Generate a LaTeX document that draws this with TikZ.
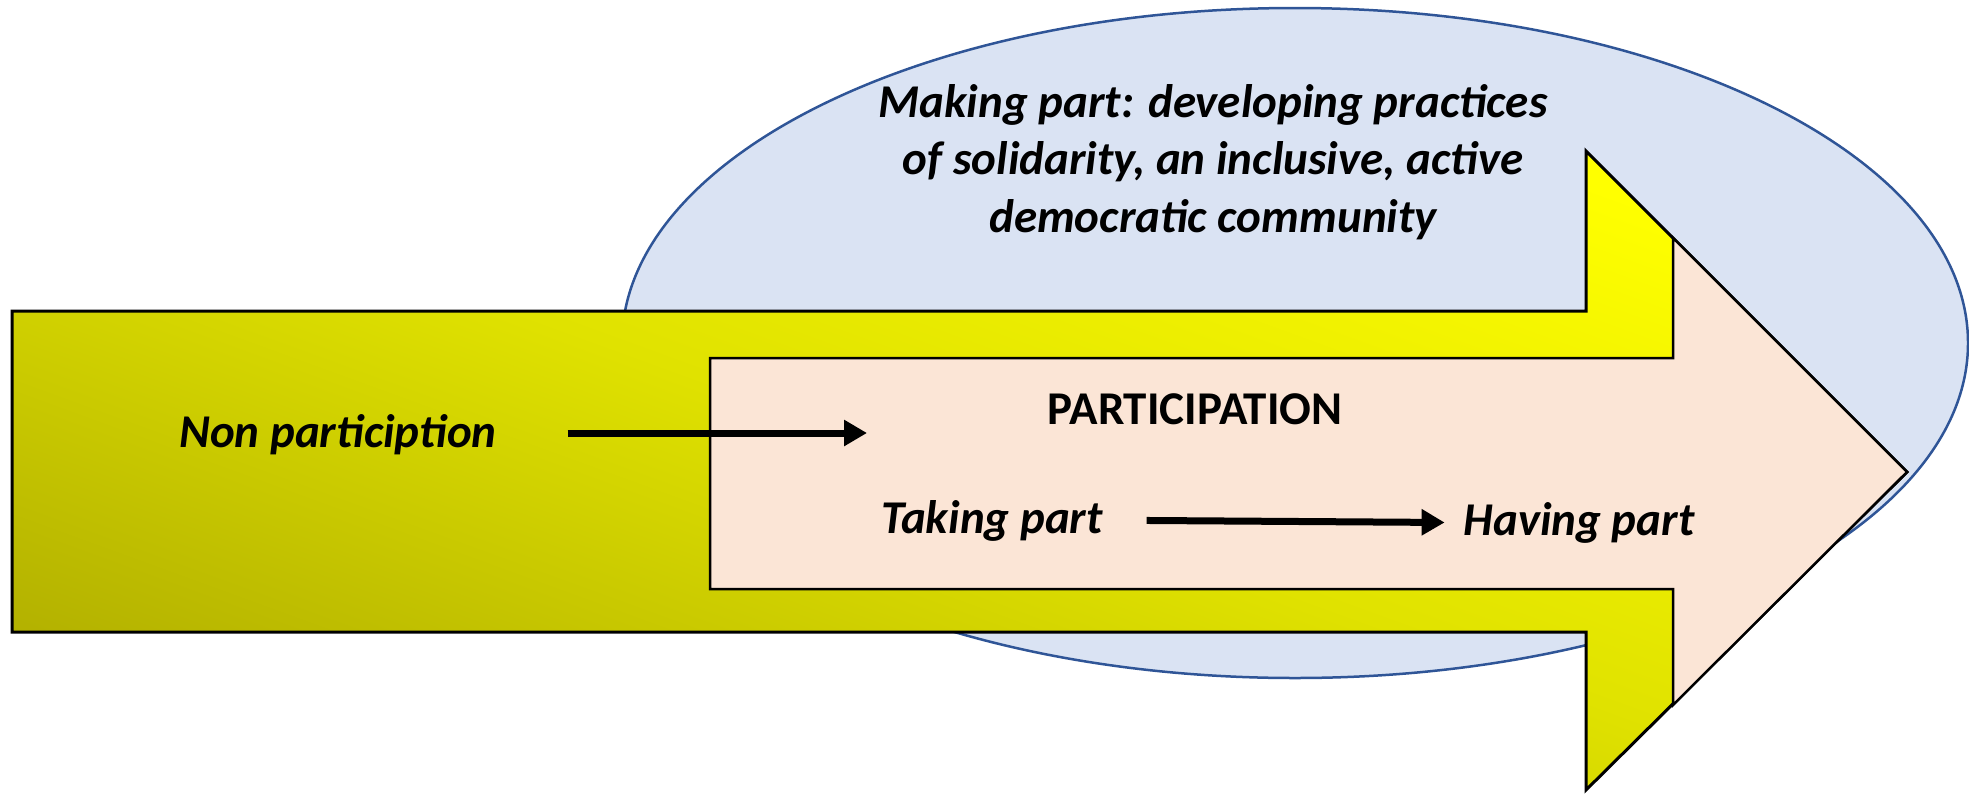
\documentclass[tikz,border=0pt]{standalone}
\usepackage{fontspec}
\setmainfont{Carlito}
\usepackage{tikz}
\usetikzlibrary{calc,arrows.meta}

\definecolor{cloudfill}{HTML}{DAE3F3}
\definecolor{cloudline}{HTML}{2F5597}
\definecolor{yellowtop}{HTML}{FFFF00}
\definecolor{yellowmid}{HTML}{E0E200}
\definecolor{yellowlow}{HTML}{B2B000}
\definecolor{pinkfill}{HTML}{FBE5D6}

\tikzset{
  flowarrow/.style={line width=7pt, -{Triangle[length=23pt,width=25pt]}},
  bigtext/.style={font=\fontsize{47}{57.5}\selectfont\bfseries\itshape}
}

\begin{document}
\begin{tikzpicture}[x=1pt,y=-1pt,inner sep=0pt,outer sep=0pt]
    \useasboundingbox (0,0) rectangle (1969,793);

    % making part cloud
    \draw[fill=cloudfill, draw=cloudline, line width=2.5pt]
    (1295,343) ellipse [x radius=673, y radius=335];

    % outer arrow
    \draw[line width=3pt, top color=yellowtop, bottom color=yellowlow,
    middle color=yellowmid, shading angle=-20]
    (12,311) -- (1586,311) -- (1586,151) -- (1907,472)
    -- (1586,790) -- (1586,632) -- (12,632) -- cycle;

    % inner arrow
    \draw[fill=pinkfill, line width=2.5pt]
    (710,358) -- (1673,358) -- (1673,238) -- (1907,472)
    -- (1673,705) -- (1673,589) -- (710,589) -- cycle;

    % making part
    \node[bigtext, align=center] (making) at (1213,162)
    {Making part: developing practices\\
    of solidarity, an inclusive, active\\
    democratic community};

    % non participation
    \node[bigtext, anchor=base] (nonpart) at (338,447) {Non particiption};
    \coordinate (nonend) at (867,433);
    \draw[flowarrow] ($(nonpart.east |- nonend)+(71,0)$) -- (nonend);

    % participation
    \node[font=\fontsize{47}{57.5}\selectfont\bfseries, anchor=base]
    (partic) at (1195,424) {PARTICIPATION};
    \node[bigtext, anchor=base] (taking) at (992,533) {Taking part};
    \node[bigtext, anchor=base] (having) at (1579,535) {Having part};
    \draw[flowarrow] ($(taking.east)+(44,0)$) -- ($(having.west)+(-19,0)$);

\end{tikzpicture}
\end{document}
